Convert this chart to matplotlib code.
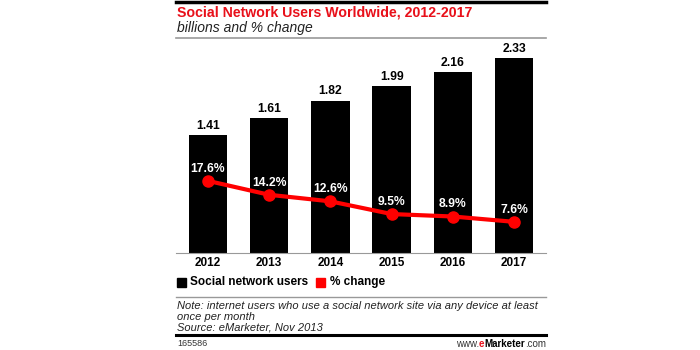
import matplotlib
matplotlib.use('Agg')
import matplotlib.pyplot as plt
from matplotlib.lines import Line2D
from matplotlib.patches import Rectangle

years = ['2012', '2013', '2014', '2015', '2016', '2017']
users = [1.41, 1.61, 1.82, 1.99, 2.16, 2.33]
pct_change = [17.6, 14.2, 12.6, 9.5, 8.9, 7.6]

W, H = 700, 350
RED = '#e8101a'
FONT = 'Liberation Sans'


def fx(x):
    return x / W


def fy(y):
    return 1 - y / H


def hline(fig, x0, x1, y, color, lw):
    fig.add_artist(Line2D([fx(x0), fx(x1)], [fy(y), fy(y)],
                          color=color, linewidth=lw,
                          transform=fig.transFigure))


plt.rcParams['font.family'] = FONT
fig = plt.figure(figsize=(7, 3.5), dpi=100)

# chart area: 176..546 px wide, baseline at y=253
ax = fig.add_axes([fx(176), fy(253), fx(370), 208 / H])
x = range(len(years))
ax.bar(x, users, width=0.63, color='black', zorder=2)
ax.set_xlim(-0.52, 5.52)
ax.set_ylim(0, 208 / 83.7)
for i, v in enumerate(users):
    ax.annotate(f'{v:.2f}', (i, v), xytext=(0, 2.5), textcoords='offset points',
                ha='center', va='bottom', fontsize=8.7, fontweight='bold')
for side in ['top', 'right', 'left']:
    ax.spines[side].set_visible(False)
ax.spines['bottom'].set_color('#999999')
ax.spines['bottom'].set_linewidth(0.8)
ax.set_yticks([])
ax.set_xticks(list(x))
ax.set_xticklabels(years, fontsize=8.5, fontweight='bold')
ax.tick_params(axis='x', length=0, pad=3)

ax2 = ax.twinx()
ax2.set_ylim(0, 208 / 4.1)
ax2.plot(list(x), pct_change, color='#ff0000', linewidth=3,
         marker='o', markersize=8, zorder=3)
for i, v in enumerate(pct_change):
    ax2.annotate(f'{v}%', (i, v), xytext=(0, 4.5), textcoords='offset points',
                 ha='center', va='bottom', fontsize=8.7, fontweight='bold',
                 color='white')
ax2.axis('off')

# header
hline(fig, 176, 546, 1.5, 'black', 2.5)
fig.text(fx(177), fy(12.5), 'Social Network Users Worldwide, 2012-2017',
         color=RED, fontsize=10.2, fontweight='bold', va='center')
fig.text(fx(177), fy(28), 'billions and % change',
         fontsize=10, style='italic', va='center', color='#222222')
hline(fig, 176, 546, 38, '#999999', 1.2)

# legend
fig.add_artist(Rectangle((fx(177), fy(287)), fx(9), 9 / H,
                         color='black', transform=fig.transFigure))
fig.text(fx(190), fy(282), 'Social network users', fontsize=8.5,
         fontweight='bold', va='center')
fig.add_artist(Rectangle((fx(316), fy(287)), fx(9), 9 / H,
                         color='#ff0000', transform=fig.transFigure))
fig.text(fx(330), fy(282), '% change', fontsize=8.5,
         fontweight='bold', va='center')

# footer
hline(fig, 176, 546, 297, '#999999', 1.0)
notes = ['Note: internet users who use a social network site via any device at least',
         'once per month',
         'Source: eMarketer, Nov 2013']
for k, line in enumerate(notes):
    fig.text(fx(177), fy(306 + 11 * k), line, fontsize=8.0, style='italic',
             va='center', color='#222222')
hline(fig, 176, 546, 335, 'black', 2.2)
fig.text(fx(177), fy(344), '165586', fontsize=6.5, va='center', color='#333333')

# www.eMarketer.com, built right to left
renderer = fig.canvas.get_renderer()
right = 546
pieces = [('.com', '#333333', 'normal'), ('Marketer', 'black', 'bold'),
          ('e', RED, 'bold'), ('www.', '#333333', 'normal')]
for text, color, weight in pieces:
    t = fig.text(fx(right), fy(344), text, fontsize=7, va='center', ha='right',
                 color=color, fontweight=weight)
    right -= t.get_window_extent(renderer).width

fig.savefig('out.png', dpi=100, facecolor='white')
